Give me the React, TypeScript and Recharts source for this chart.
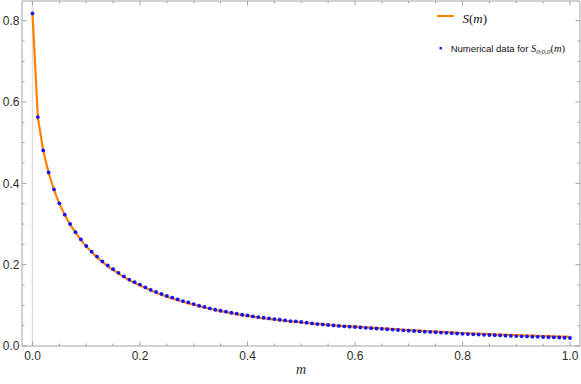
import React from 'react';
import { ComposedChart, Line, Scatter, XAxis, YAxis, ReferenceLine, Legend } from 'recharts';

const mValues = [
  0, 0.01, 0.02, 0.03, 0.04, 0.05, 0.06, 0.07, 0.08, 0.09,
  0.1, 0.11, 0.12, 0.13, 0.14, 0.15, 0.16, 0.17, 0.18, 0.19,
  0.2, 0.21, 0.22, 0.23, 0.24, 0.25, 0.26, 0.27, 0.28, 0.29,
  0.3, 0.31, 0.32, 0.33, 0.34, 0.35, 0.36, 0.37, 0.38, 0.39,
  0.4, 0.41, 0.42, 0.43, 0.44, 0.45, 0.46, 0.47, 0.48, 0.49,
  0.5, 0.51, 0.52, 0.53, 0.54, 0.55, 0.56, 0.57, 0.58, 0.59,
  0.6, 0.61, 0.62, 0.63, 0.64, 0.65, 0.66, 0.67, 0.68, 0.69,
  0.7, 0.71, 0.72, 0.73, 0.74, 0.75, 0.76, 0.77, 0.78, 0.79,
  0.8, 0.81, 0.82, 0.83, 0.84, 0.85, 0.86, 0.87, 0.88, 0.89,
  0.9, 0.91, 0.92, 0.93, 0.94, 0.95, 0.96, 0.97, 0.98, 0.99,
  1.0,
];

// Numerical data for S_{0|0,0}(m)
const numericalValues = [
  0.818, 0.563, 0.481, 0.427, 0.385, 0.351, 0.323, 0.300, 0.280, 0.262,
  0.246, 0.232, 0.220, 0.208, 0.198, 0.189, 0.180, 0.171, 0.163, 0.157,
  0.151, 0.144, 0.138, 0.133, 0.128, 0.123, 0.119, 0.1145, 0.1106, 0.107,
  0.103, 0.099, 0.096, 0.0924, 0.0892, 0.0867, 0.0843, 0.0818, 0.0794, 0.0769,
  0.0752, 0.0727, 0.0712, 0.0695, 0.0678, 0.0663, 0.0646, 0.0629, 0.0614, 0.0605,
  0.059, 0.0573, 0.0555, 0.054, 0.053, 0.0516, 0.0505, 0.0493, 0.0483, 0.0475,
  0.0467, 0.0457, 0.0448, 0.0439, 0.043, 0.0421, 0.0412, 0.0403, 0.0394, 0.0385,
  0.0377, 0.0369, 0.0361, 0.0353, 0.0346, 0.0338, 0.033, 0.0323, 0.0315, 0.0308,
  0.03, 0.0294, 0.0288, 0.0282, 0.0276, 0.0271, 0.0266, 0.026, 0.0255, 0.0249,
  0.0244, 0.0239, 0.0235, 0.023, 0.0226, 0.0221, 0.0217, 0.0213, 0.0209, 0.0203,
  0.0197,
];

// S(m) curve
const sValues = [
  0.818, 0.562, 0.480, 0.426, 0.384, 0.350, 0.322, 0.299, 0.279, 0.261,
  0.245, 0.231, 0.218, 0.207, 0.196, 0.187, 0.178, 0.170, 0.162, 0.155,
  0.149, 0.143, 0.137, 0.131, 0.126, 0.121, 0.117, 0.113, 0.109, 0.105,
  0.1015, 0.098, 0.0946, 0.0915, 0.0885, 0.0857, 0.0831, 0.0806, 0.0783, 0.076,
  0.0739, 0.0719, 0.07, 0.0682, 0.0665, 0.0649, 0.0633, 0.0618, 0.0604, 0.0591,
  0.0578, 0.0565, 0.0553, 0.0542, 0.0531, 0.0521, 0.0511, 0.05, 0.0491, 0.0484,
  0.0477, 0.0468, 0.0459, 0.0451, 0.0442, 0.0434, 0.0425, 0.0417, 0.0408, 0.04,
  0.0392, 0.0384, 0.0377, 0.0369, 0.0362, 0.0355, 0.0347, 0.034, 0.0333, 0.0326,
  0.032, 0.0314, 0.0308, 0.0303, 0.0297, 0.0292, 0.0287, 0.0282, 0.0277, 0.0272,
  0.0267, 0.0263, 0.0258, 0.0254, 0.025, 0.0246, 0.0242, 0.0238, 0.0234, 0.023,
  0.0226,
];

const xTicks = [
  0, 0.05, 0.1, 0.15, 0.2, 0.25, 0.3, 0.35, 0.4, 0.45, 0.5,
  0.55, 0.6, 0.65, 0.7, 0.75, 0.8, 0.85, 0.9, 0.95, 1.0,
];
const yTicks = [
  0, 0.05, 0.1, 0.15, 0.2, 0.25, 0.3, 0.35, 0.4, 0.45, 0.5, 0.55, 0.6, 0.65, 0.7, 0.75, 0.8,
];
const majorStep = 0.2;
const xLabel = 'm';
const lineName = 'S(m)';
const pointsName = 'Numerical data for S';
const pointsSub = '0|0,0';

const numericalData = mValues.map((m, i) => ({ m, v: numericalValues[i] }));
const sData = mValues.map((m, i) => ({ m, s: sValues[i] }));

const FRAME = '#a3a3a3';
const LABEL = '#2e2e2e';
const ORANGE = '#ff8000';
const BLUE = '#1010ff';
const SANS = '"Liberation Sans", Arial, Helvetica, sans-serif';
const SERIF = '"Liberation Serif", "Times New Roman", serif';

const isMajor = (v: number) => Math.abs(v / majorStep - Math.round(v / majorStep)) < 1e-6;

const BottomTick = (props: any) => {
  const { x, y, payload } = props;
  const major = isMajor(payload.value);
  return (
    <g>
      <line x1={x} x2={x} y1={y} y2={y - (major ? 4.5 : 2.5)} stroke={FRAME} strokeWidth={1} />
      {major && (
        <text x={x} y={y + 14} textAnchor="middle" fontFamily={SANS} fontSize={12} fill={LABEL}>
          {payload.value.toFixed(1)}
        </text>
      )}
    </g>
  );
};

const TopTick = (props: any) => {
  const { x, y, payload } = props;
  const major = isMajor(payload.value);
  return <line x1={x} x2={x} y1={y} y2={y + (major ? 4.5 : 2.5)} stroke={FRAME} strokeWidth={1} />;
};

const LeftTick = (props: any) => {
  const { x, y, payload } = props;
  const major = isMajor(payload.value);
  return (
    <g>
      <line x1={x} x2={x + (major ? 4.5 : 2.5)} y1={y} y2={y} stroke={FRAME} strokeWidth={1} />
      {major && (
        <text x={x - 2.5} y={y + 4.2} textAnchor="end" fontFamily={SANS} fontSize={12} fill={LABEL}>
          {payload.value.toFixed(1)}
        </text>
      )}
    </g>
  );
};

const RightTick = (props: any) => {
  const { x, y, payload } = props;
  const major = isMajor(payload.value);
  return <line x1={x} x2={x - (major ? 4.5 : 2.5)} y1={y} y2={y} stroke={FRAME} strokeWidth={1} />;
};

const XLabel = (props: any) => {
  const vb = props.viewBox || { x: 22, y: 346, width: 558, height: 38 };
  return (
    <text
      x={vb.x + vb.width / 2}
      y={vb.y + 28}
      textAnchor="middle"
      fontFamily={SERIF}
      fontStyle="italic"
      fontSize={14}
      fill={LABEL}
    >
      {xLabel}
    </text>
  );
};

const Dot = (props: any) => {
  const { cx, cy } = props;
  if (cx == null || cy == null) return null;
  return <circle cx={cx} cy={cy} r={1.9} fill={BLUE} />;
};

const LegendContent = () => (
  <svg width={150} height={60} style={{ display: 'block' }}>
    <line x1={7} x2={24} y1={16} y2={16} stroke={ORANGE} strokeWidth={2} />
    <text x={32.5} y={22.5} fontFamily={SERIF} fontSize={13} fill="#111">
      <tspan fontStyle="italic">S</tspan>
      <tspan>(</tspan>
      <tspan fontStyle="italic">m</tspan>
      <tspan>)</tspan>
    </text>
    <rect x={9.5} y={47} width={2.4} height={2.4} fill={BLUE} />
    <text x={20.7} y={51.8} fontFamily={SANS} fontSize={9.5} fill="#111">
      {pointsName.slice(0, -1)}
      <tspan fontFamily={SERIF} fontStyle="italic" fontSize={10.5}>
        {pointsName.slice(-1)}
      </tspan>
      <tspan fontFamily={SERIF} fontStyle="italic" fontSize={7} dy={2}>
        {pointsSub}
      </tspan>
      <tspan fontFamily={SERIF} fontSize={10.5} dy={-2}>
        (
      </tspan>
      <tspan fontFamily={SERIF} fontStyle="italic" fontSize={10.5}>
        m
      </tspan>
      <tspan fontFamily={SERIF} fontSize={10.5}>
        )
      </tspan>
    </text>
  </svg>
);

const xDomain: [number, number] = [-0.0195, 1.0186];
const yDomain: [number, number] = [0, 0.8485];

export default function App() {
  return (
    <div style={{ position: 'absolute', left: 0, top: 0, background: '#fff' }}>
      <ComposedChart width={581} height={384} margin={{ top: 0, right: 0, bottom: 0, left: 0 }}>
        <XAxis
          xAxisId="b"
          dataKey="m"
          type="number"
          domain={xDomain}
          allowDataOverflow
          ticks={xTicks}
          interval={0}
          height={38}
          tickSize={0}
          tickMargin={0}
          tickLine={false}
          axisLine={{ stroke: FRAME }}
          tick={<BottomTick />}
          label={<XLabel />}
        />
        <XAxis
          xAxisId="t"
          orientation="top"
          dataKey="m"
          type="number"
          domain={xDomain}
          allowDataOverflow
          ticks={xTicks}
          interval={0}
          height={1}
          tickSize={0}
          tickMargin={0}
          tickLine={false}
          axisLine={{ stroke: FRAME }}
          tick={<TopTick />}
        />
        <YAxis
          yAxisId="l"
          type="number"
          domain={yDomain}
          allowDataOverflow
          ticks={yTicks}
          interval={0}
          width={22}
          tickSize={0}
          tickMargin={0}
          tickLine={false}
          axisLine={{ stroke: FRAME }}
          tick={<LeftTick />}
        />
        <YAxis
          yAxisId="r"
          orientation="right"
          type="number"
          domain={yDomain}
          allowDataOverflow
          ticks={yTicks}
          interval={0}
          width={1}
          tickSize={0}
          tickMargin={0}
          tickLine={false}
          axisLine={{ stroke: FRAME }}
          tick={<RightTick />}
        />
        <ReferenceLine xAxisId="b" yAxisId="l" x={0} stroke="#dedede" strokeWidth={1.5} />
        <Line
          xAxisId="b"
          yAxisId="l"
          data={sData}
          dataKey="s"
          name={lineName}
          type="linear"
          stroke={ORANGE}
          strokeWidth={2.2}
          dot={false}
          activeDot={false}
          isAnimationActive={false}
        />
        <Scatter
          xAxisId="b"
          yAxisId="l"
          data={numericalData}
          dataKey="v"
          name={pointsName}
          fill={BLUE}
          shape={<Dot />}
          isAnimationActive={false}
        />
        <Legend
          layout="horizontal"
          verticalAlign="middle"
          align="center"
          wrapperStyle={{ position: 'absolute', left: 430, top: 0, width: 150, height: 60 }}
          content={<LegendContent />}
        />
      </ComposedChart>
    </div>
  );
}
